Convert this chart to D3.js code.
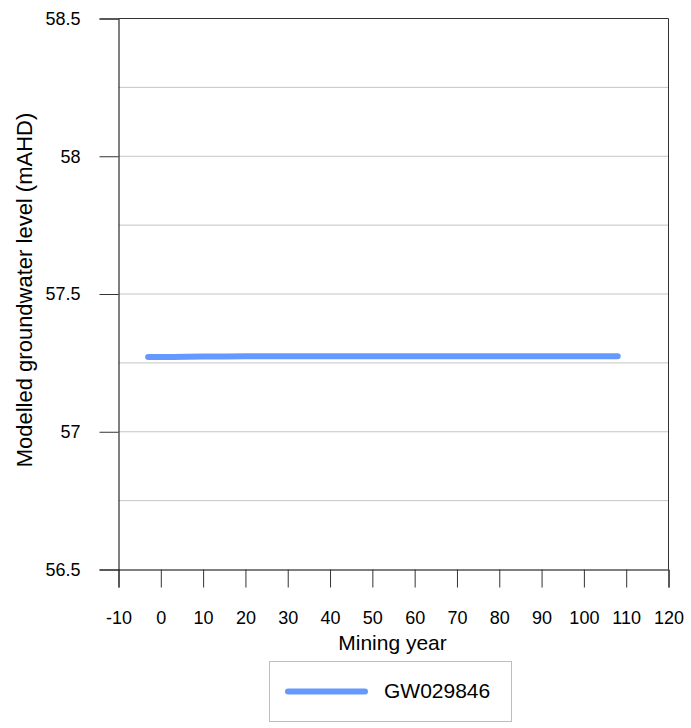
<!DOCTYPE html>
<html><head><meta charset="utf-8">
<script src="https://cdn.jsdelivr.net/npm/d3@7"></script>
<style>body{margin:0;background:#fff}svg{display:block;font-family:"Liberation Sans",Arial,sans-serif}</style>
</head><body><div id="chart"></div>
<script>
const years = [-3, 0, 3, 6, 10, 15, 20, 30, 40, 50, 60, 70, 80, 90, 100, 108];
const levels = [57.2710, 57.2712, 57.2713, 57.2718, 57.2728, 57.2733, 57.2736, 57.2738, 57.2739, 57.2740, 57.2741, 57.2742, 57.2743, 57.2744, 57.2745, 57.2745];
const seriesName = "GW029846";
const xTicks = [-10, 0, 10, 20, 30, 40, 50, 60, 70, 80, 90, 100, 110, 120];
const yMajor = [56.5, 57, 57.5, 58, 58.5];
const yGrid = [56.75, 57, 57.25, 57.5, 57.75, 58, 58.25];

const W = 691, H = 728;
const L = 118.5, R = 668.5, T = 18.5, B = 569.5;
const svg = d3.select("#chart").append("svg").attr("width", W).attr("height", H);
const x = d3.scaleLinear().domain([-10, 120]).range([L, R]);
const y = d3.scaleLinear().domain([56.5, 58.5]).range([B, T]);
const fmt = d => String(d);

// gridlines
svg.append("g").selectAll("line").data(yGrid).join("line")
  .attr("x1", L).attr("x2", R).attr("y1", d => y(d)).attr("y2", d => y(d))
  .attr("stroke", "#c4c4c4").attr("stroke-width", 1);

// y axis
const ya = svg.append("g").attr("transform", `translate(${L},0)`)
  .call(d3.axisLeft(y).tickValues(yMajor).tickSize(19).tickPadding(19).tickFormat(fmt));
ya.select(".domain").attr("stroke", "#000");
ya.selectAll(".tick line").attr("stroke", "#333");
ya.selectAll("text").attr("font-size", 18).attr("fill", "#000");

// x axis
const xa = svg.append("g").attr("transform", `translate(0,${B})`)
  .call(d3.axisBottom(x).tickValues(xTicks).tickSize(18).tickPadding(24).tickFormat(fmt));
xa.select(".domain").attr("stroke", "#000");
xa.selectAll(".tick line").attr("stroke", "#333");
xa.selectAll("text").attr("font-size", 18).attr("fill", "#000");

// frame top/right
svg.append("line").attr("x1", L).attr("x2", R).attr("y1", T).attr("y2", T).attr("stroke", "#333");
svg.append("line").attr("x1", R).attr("x2", R).attr("y1", T).attr("y2", B).attr("stroke", "#333");

// series
const data = years.map((d, i) => [d, levels[i]]);
svg.append("path").datum(data)
  .attr("d", d3.line().x(d => x(d[0])).y(d => y(d[1])))
  .attr("fill", "none").attr("stroke", "#6699ff").attr("stroke-width", 6)
  .attr("stroke-linecap", "round").attr("stroke-linejoin", "round");

// axis titles
svg.append("text").attr("x", (L + R) / 2 - 1).attr("y", 650)
  .attr("text-anchor", "middle").attr("font-size", 21).text("Mining year");
svg.append("text").attr("transform", `translate(32,290) rotate(-90)`)
  .attr("text-anchor", "middle").attr("font-size", 22).text("Modelled groundwater level (mAHD)");

// legend
svg.append("rect").attr("x", 269.5).attr("y", 661.5).attr("width", 242).attr("height", 60)
  .attr("fill", "#fff").attr("stroke", "#bdbdbd");
svg.append("line").attr("x1", 288).attr("x2", 365).attr("y1", 691.5).attr("y2", 691.5)
  .attr("stroke", "#6699ff").attr("stroke-width", 6).attr("stroke-linecap", "round");
svg.append("text").attr("x", 384).attr("y", 698).attr("font-size", 21).text(seriesName);
</script></body></html>
